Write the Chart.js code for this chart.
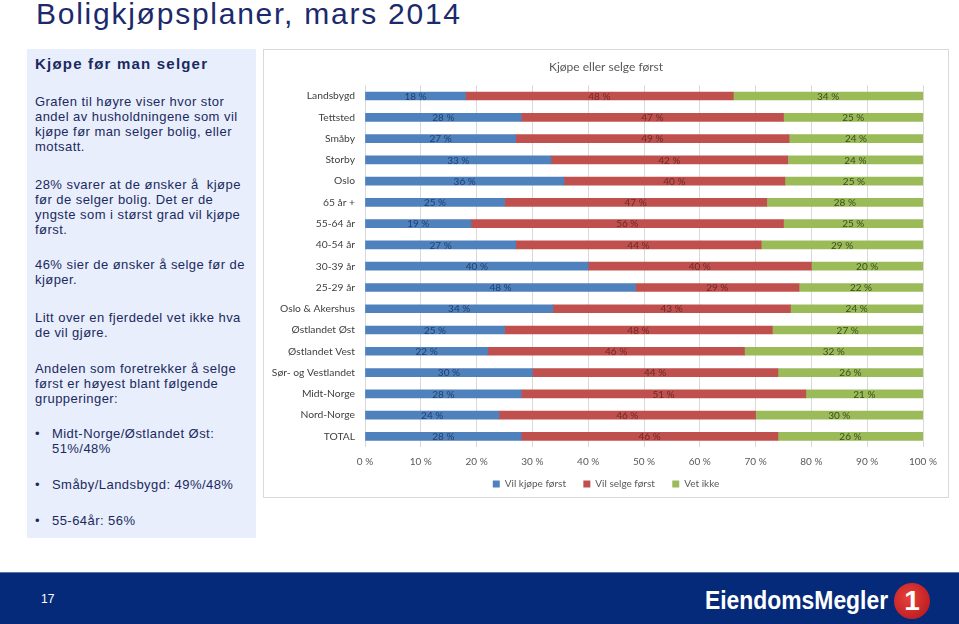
<!DOCTYPE html>
<html>
<head>
<meta charset="utf-8">
<script src="https://cdn.jsdelivr.net/npm/chart.js@4"></script>
<style>
  html, body { margin: 0; padding: 0; background: #fff; }
  body { width: 959px; height: 624px; position: relative; overflow: hidden; font-family: "Liberation Sans", Arial, sans-serif; }
  #title { position: absolute; left: 36px; top: -3px; font-size: 30px; letter-spacing: 1.75px; color: #1b2a6b; white-space: nowrap; }
  #side { position: absolute; left: 27px; top: 49px; width: 229px; height: 489px; background: #e8eefb; color: #1a2a5e; }
  #side .p { position: absolute; left: 8px; font-size: 13px; line-height: 15px; letter-spacing: 0.45px; white-space: nowrap; }
  #side h3 { position: absolute; left: 8px; top: 6px; margin: 0; font-size: 15px; letter-spacing: 1.2px; font-weight: bold; }
  #side .b { position: absolute; left: 25px; font-size: 13px; line-height: 15px; letter-spacing: 0.45px; white-space: nowrap; }
  #side .b::before { content: "\2022"; position: absolute; left: -17px; }
  #panel { position: absolute; left: 263px; top: 49px; width: 684px; height: 447px; border: 1px solid #d9d9d9; background: #fff; }
  #panel canvas { position: absolute; left: 0; top: 0; }
  #footer { position: absolute; left: 0; top: 572px; width: 959px; height: 52px; background: #062a7a; border-top: 1px solid #5d74a8; }
  #pageno { position: absolute; left: 41px; top: 19px; color: #fff; font-size: 12px; }
  #logo { position: absolute; left: 705px; top: 12px; color: #fff; font-weight: bold; font-size: 26px; white-space: nowrap; transform: scaleX(0.88); transform-origin: left center; }
  #one { position: absolute; left: 894px; top: 10px; width: 36px; height: 36px; border-radius: 50%; background: radial-gradient(circle at 40% 40%, #e8403a, #b0141c); color: #fff; font-weight: bold; font-size: 28px; text-align: center; line-height: 36px; }
</style>
</head>
<body>
<div id="title">Boligkjøpsplaner, mars 2014</div>

<div id="side">
  <h3>Kjøpe før man selger</h3>
  <div class="p" style="top:45px">Grafen til høyre viser hvor stor<br>andel av husholdningene som vil<br>kjøpe før man selger bolig, eller<br>motsatt.</div>
  <div class="p" style="top:128px">28% svarer at de ønsker å&nbsp; kjøpe<br>før de selger bolig. Det er de<br>yngste som i størst grad vil kjøpe<br>først.</div>
  <div class="p" style="top:208px">46% sier de ønsker å selge før de<br>kjøper.</div>
  <div class="p" style="top:261px">Litt over en fjerdedel vet ikke hva<br>de vil gjøre.</div>
  <div class="p" style="top:312px">Andelen som foretrekker å selge<br>først er høyest blant følgende<br>grupperinger:</div>
  <div class="b" style="top:377px">Midt-Norge/Østlandet Øst:<br>51%/48%</div>
  <div class="b" style="top:428px">Småby/Landsbygd: 49%/48%</div>
  <div class="b" style="top:464px">55-64år: 56%</div>
</div>

<div id="panel"><canvas id="chart_main" width="684" height="449"></canvas></div>

<div id="footer">
  <div id="pageno">17</div>
  <div id="logo">EiendomsMegler</div>
  <div id="one">1</div>
</div>

<script>
const categories = ['Landsbygd', 'Tettsted', 'Småby', 'Storby', 'Oslo', '65 år +', '55-64 år', '40-54 år',
    '30-39 år', '25-29 år', 'Oslo & Akershus', 'Østlandet Øst', 'Østlandet Vest', 'Sør- og Vestlandet',
    'Midt-Norge', 'Nord-Norge', 'TOTAL'];
const vilKjope  = [18, 28, 27, 33, 36, 25, 19, 27, 40, 48, 34, 25, 22, 30, 28, 24, 28];
const vilSelge  = [48, 47, 49, 42, 40, 47, 56, 44, 40, 29, 43, 48, 46, 44, 51, 46, 46];
const vetIkke   = [34, 25, 24, 24, 25, 28, 25, 29, 20, 22, 24, 27, 32, 26, 21, 30, 26];
const xTicks = [0, 10, 20, 30, 40, 50, 60, 70, 80, 90, 100];

// 100 % stacked, like Excel: each row scaled to its own total
const rowTotals = categories.map((_, i) => vilKjope[i] + vilSelge[i] + vetIkke[i]);
const share = arr => arr.map((v, i) => v / rowTotals[i] * 100);

const series = [
    { label: 'Vil kjøpe først', raw: vilKjope, color: '#4f81bd', text: '#22406e' },
    { label: 'Vil selge først', raw: vilSelge, color: '#c0504d', text: '#6e2828' },
    { label: 'Vet ikke', raw: vetIkke, color: '#9bbb59', text: '#3a4d1c' },
];

const segmentLabels = {
    id: 'segmentLabels',
    afterDatasetsDraw(chart) {
        const ctx = chart.ctx;
        ctx.save();
        ctx.font = '10px Lato';
        ctx.textAlign = 'center';
        ctx.textBaseline = 'middle';
        chart.data.datasets.forEach((ds, di) => {
            const meta = chart.getDatasetMeta(di);
            meta.data.forEach((bar, i) => {
                ctx.fillStyle = series[di].text;
                ctx.fillText(series[di].raw[i] + ' %', (bar.x + bar.base) / 2, bar.y + 0.5);
            });
        });
        ctx.restore();
    }
};

new Chart(document.getElementById('chart_main'), {
    type: 'bar',
    data: {
        labels: categories,
        datasets: series.map(s => ({
            label: s.label,
            data: share(s.raw),
            backgroundColor: s.color,
            borderWidth: 0,
            barThickness: 8,
        }))
    },
    options: {
        indexAxis: 'y',
        responsive: false,
        animation: false,
        layout: { padding: { left: 0, right: 0, top: 0, bottom: 0 } },
        scales: {
            x: {
                stacked: true,
                min: 0,
                max: 100,
                afterBuildTicks: scale => { scale.ticks = xTicks.map(v => ({ value: v })); },
                ticks: {
                    padding: 9,
                    color: '#595959',
                    font: { family: 'Lato', size: 10 },
                    callback: v => v + ' %'
                },
                grid: { color: '#d9d9d9', drawTicks: false },
                border: { display: false }
            },
            y: {
                stacked: true,
                afterFit: scale => { scale.width = 101; },
                ticks: {
                    padding: 10,
                    color: '#404040',
                    font: { family: 'Lato', size: 10.3 }
                },
                grid: { display: false, drawTicks: false },
                border: { display: false }
            },
            // empty right-hand axis keeps the plot clear of the panel edge
            yRight: {
                type: 'category',
                position: 'right',
                afterFit: scale => { scale.width = 25; },
                ticks: { display: false },
                grid: { display: false, drawTicks: false },
                border: { display: false }
            }
        },
        plugins: {
            title: {
                display: true,
                text: 'Kjøpe eller selge først',
                color: '#595959',
                font: { family: 'Lato', size: 12, weight: 'normal' },
                padding: { top: 10, bottom: 11 }
            },
            legend: {
                position: 'bottom',
                labels: {
                    boxWidth: 7,
                    boxHeight: 7,
                    padding: 2,
                    color: '#595959',
                    font: { family: 'Lato', size: 10 },
                    generateLabels: chart => Chart.defaults.plugins.legend.labels.generateLabels(chart)
                        .map((item, i) => ({ ...item, text: item.text + (i < series.length - 1 ? '      ' : '') }))
                }
            },
            tooltip: { enabled: false }
        }
    },
    plugins: [segmentLabels]
});
</script>
</body>
</html>
